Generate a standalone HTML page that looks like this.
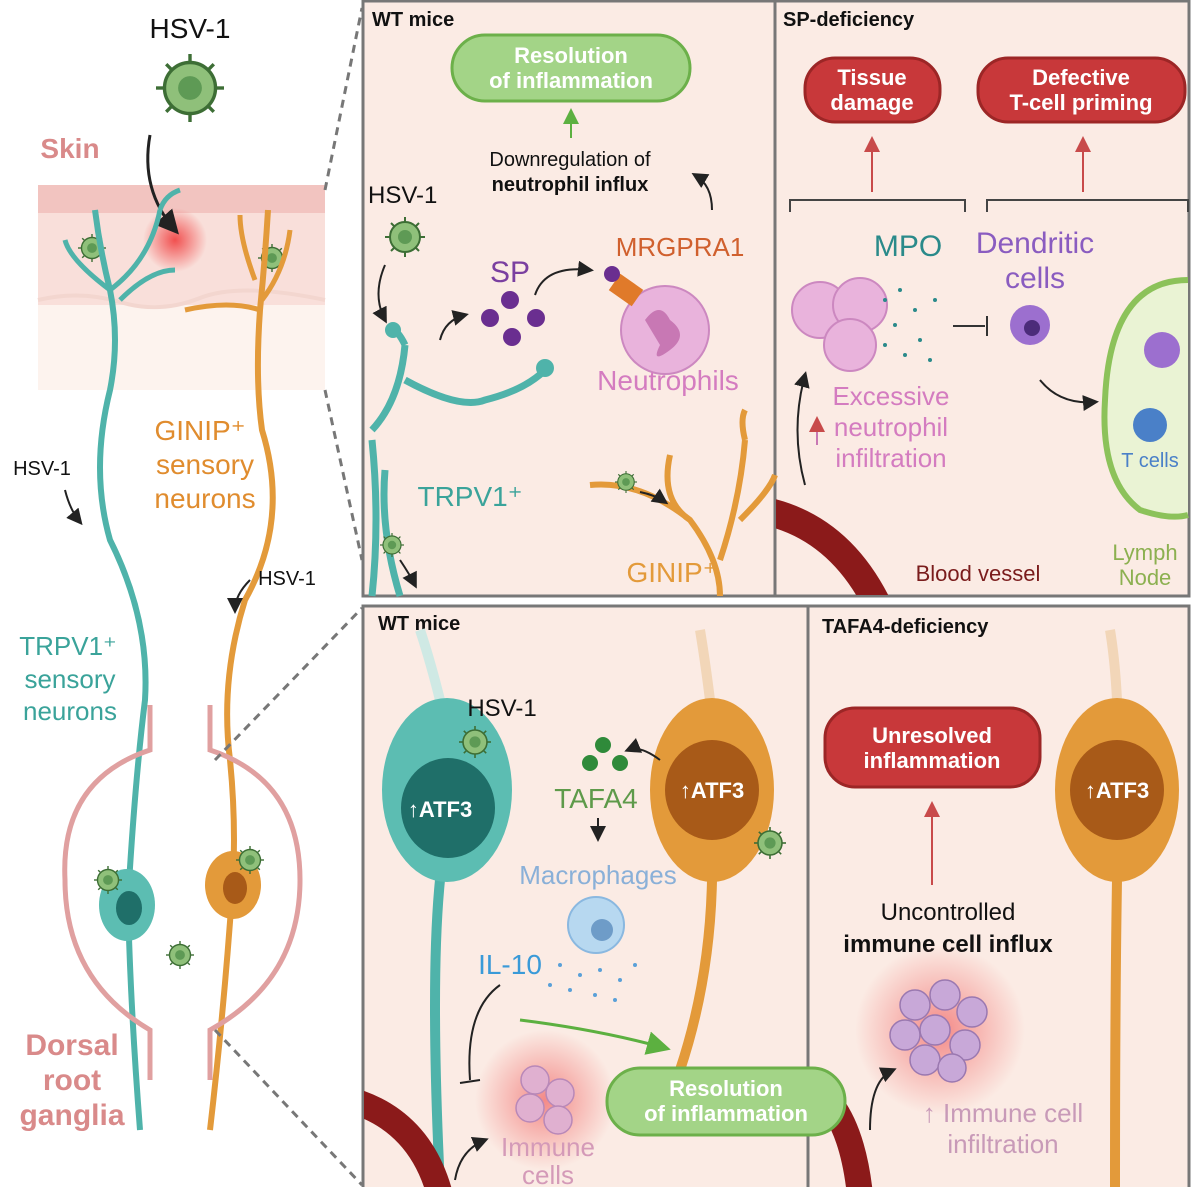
<!DOCTYPE html>
<html><head><meta charset="utf-8"><style>
html,body{margin:0;padding:0;background:#fff;}
svg{display:block;}
text{font-family:"Liberation Sans",sans-serif;}
</style></head><body>
<svg width="1200" height="1187" viewBox="0 0 1200 1187" xmlns="http://www.w3.org/2000/svg">
<defs>
<radialGradient id="glow"><stop offset="0" stop-color="#f04040" stop-opacity="0.9"/><stop offset="1" stop-color="#f04040" stop-opacity="0"/></radialGradient>
<radialGradient id="glow2"><stop offset="0" stop-color="#f06060" stop-opacity="0.7"/><stop offset="1" stop-color="#f06060" stop-opacity="0"/></radialGradient>
<clipPath id="cTR"><rect x="776" y="2" width="412" height="593"/></clipPath>
<clipPath id="cBL"><rect x="364" y="607" width="443" height="580"/></clipPath>
<clipPath id="cBR"><rect x="809" y="607" width="379" height="580"/></clipPath>
<marker id="ah" markerWidth="8" markerHeight="8" refX="6" refY="4" orient="auto"><path d="M0,0 L8,4 L0,8 z" fill="#222"/></marker>
<marker id="ahr" markerWidth="8" markerHeight="8" refX="6" refY="4" orient="auto"><path d="M0,0 L8,4 L0,8 z" fill="#c84a4a"/></marker>
<marker id="ahg" markerWidth="8" markerHeight="8" refX="6" refY="4" orient="auto"><path d="M0,0 L8,4 L0,8 z" fill="#5cb040"/></marker>
<g id="virus"><circle r="15" fill="#8fc07a" stroke="#3d6e35" stroke-width="2"/><circle r="7" fill="#5e9a55"/><g stroke="#3d6e35" stroke-width="2"><line x1="0" y1="-15" x2="0" y2="-20"/><line x1="0" y1="15" x2="0" y2="20"/><line x1="-15" y1="0" x2="-20" y2="0"/><line x1="15" y1="0" x2="20" y2="0"/><line x1="11" y1="11" x2="14" y2="14"/><line x1="-11" y1="11" x2="-14" y2="14"/><line x1="11" y1="-11" x2="14" y2="-14"/><line x1="-11" y1="-11" x2="-14" y2="-14"/></g></g>
</defs>

<!-- LEFT PANEL -->
<text x="190" y="38" font-size="28" text-anchor="middle" fill="#111">HSV-1</text>
<use href="#virus" transform="translate(190,88) scale(1.7)"/>
<text x="70" y="158" font-size="28" font-weight="bold" text-anchor="middle" fill="#d98a8a">Skin</text>
<rect x="38" y="185" width="287" height="205" fill="#fdf3ee"/>
<rect x="38" y="185" width="287" height="120" fill="#f9dfda"/>
<rect x="38" y="185" width="287" height="28" fill="#f2c4c0"/>
<path d="M38,300 Q80,290 120,302 T200,298 T325,300" fill="none" stroke="#f3d6cf" stroke-width="4"/>
<circle cx="175" cy="240" r="32" fill="url(#glow)"/>
<path d="M150,135 Q140,190 175,230" fill="none" stroke="#222" stroke-width="3" marker-end="url(#ah)"/>
<use href="#virus" transform="translate(92,248) scale(0.7)"/>
<use href="#virus" transform="translate(272,258) scale(0.7)"/>
<path d="M95,210 Q100,250 110,290 Q120,340 110,390 Q90,470 110,540 Q150,620 145,700 Q135,780 128,900 Q130,1000 140,1130" fill="none" stroke="#4fb3aa" stroke-width="6"/>
<path d="M110,290 Q150,260 160,210 M160,210 Q165,195 180,190 M110,290 Q70,260 65,240 M120,300 Q150,270 175,270" fill="none" stroke="#4fb3aa" stroke-width="5"/>
<path d="M268,210 Q265,260 260,310 Q255,380 262,430 Q290,520 245,600 Q220,680 230,760 Q236,820 233,880 Q225,1000 210,1130" fill="none" stroke="#e39a3a" stroke-width="6"/>
<path d="M260,310 Q230,300 185,310 M262,300 Q285,270 290,230 M255,280 Q240,240 240,215" fill="none" stroke="#e39a3a" stroke-width="5"/>
<path d="M150,705 L150,750 Q60,780 65,880 Q65,980 150,1030 L150,1080 M210,705 L210,750 Q300,780 300,880 Q300,980 210,1030 L210,1080" fill="none" stroke="#e0a0a0" stroke-width="5"/>
<ellipse cx="127" cy="905" rx="28" ry="36" fill="#5cbdb2"/><ellipse cx="129" cy="908" rx="13" ry="17" fill="#1f6f69"/>
<ellipse cx="233" cy="885" rx="28" ry="34" fill="#e39a3a"/><ellipse cx="235" cy="888" rx="12" ry="16" fill="#a85a18"/>
<use href="#virus" transform="translate(108,880) scale(0.7)"/>
<use href="#virus" transform="translate(250,860) scale(0.7)"/>
<use href="#virus" transform="translate(180,955) scale(0.7)"/>
<text font-size="28" fill="#e08c2e" text-anchor="middle"><tspan x="200" y="440">GINIP⁺</tspan><tspan x="205" y="474">sensory</tspan><tspan x="205" y="508">neurons</tspan></text>
<text font-size="26" fill="#3aa39a" text-anchor="middle"><tspan x="68" y="655">TRPV1⁺</tspan><tspan x="70" y="688">sensory</tspan><tspan x="70" y="720">neurons</tspan></text>
<text x="42" y="475" font-size="20" text-anchor="middle" fill="#111">HSV-1</text>
<path d="M65,490 Q70,510 80,522" fill="none" stroke="#222" stroke-width="2" marker-end="url(#ah)"/>
<text x="287" y="585" font-size="20" text-anchor="middle" fill="#111">HSV-1</text>
<path d="M250,580 Q235,595 235,610" fill="none" stroke="#222" stroke-width="2" marker-end="url(#ah)"/>
<text font-size="30" font-weight="bold" fill="#d98a8a" text-anchor="middle"><tspan x="72" y="1055">Dorsal</tspan><tspan x="72" y="1090">root</tspan><tspan x="72" y="1125">ganglia</tspan></text>
<path d="M325,190 L362,8 M325,390 L362,560 M215,760 L362,608 M215,1030 L362,1185" stroke="#777" stroke-width="3" stroke-dasharray="8,6" fill="none"/>

<!-- TOP PANELS -->
<rect x="363" y="1" width="826" height="595" fill="#fbebe4" stroke="#777" stroke-width="3"/>
<line x1="775" y1="1" x2="775" y2="596" stroke="#777" stroke-width="3"/>
<text x="372" y="26" font-size="20" font-weight="bold" fill="#111">WT mice</text>
<text x="783" y="26" font-size="20" font-weight="bold" fill="#111">SP-deficiency</text>
<rect x="452" y="35" width="238" height="66" rx="33" fill="#a3d487" stroke="#6cb04a" stroke-width="3"/>
<text font-size="22" font-weight="bold" fill="#fff" text-anchor="middle"><tspan x="571" y="63">Resolution</tspan><tspan x="571" y="88">of inflammation</tspan></text>
<line x1="571" y1="138" x2="571" y2="112" stroke="#5cb040" stroke-width="2" marker-end="url(#ahg)"/>
<text x="570" y="166" font-size="20" text-anchor="middle" fill="#111">Downregulation of</text>
<text x="570" y="191" font-size="20" font-weight="bold" text-anchor="middle" fill="#111">neutrophil influx</text>
<path d="M712,210 Q712,185 695,175" fill="none" stroke="#222" stroke-width="2" marker-end="url(#ah)"/>
<text x="368" y="203" font-size="24" fill="#111">HSV-1</text>
<use href="#virus" transform="translate(405,237)"/>
<path d="M385,265 Q372,295 385,320" fill="none" stroke="#222" stroke-width="2" marker-end="url(#ah)"/>
<path d="M372,430 Q400,400 405,345 M405,345 Q398,330 390,328 M405,380 Q460,410 485,400 Q525,390 545,370 M385,470 Q380,530 400,596 M372,440 Q380,520 372,596" fill="none" stroke="#4fb3aa" stroke-width="7"/>
<circle cx="545" cy="368" r="9" fill="#4fb3aa"/><circle cx="393" cy="330" r="8" fill="#4fb3aa"/>
<path d="M440,340 Q445,320 465,315" fill="none" stroke="#222" stroke-width="2" marker-end="url(#ah)"/>
<text x="510" y="282" font-size="30" fill="#7a3fa0" text-anchor="middle">SP</text>
<g fill="#6a2e90"><circle cx="510" cy="300" r="9"/><circle cx="490" cy="318" r="9"/><circle cx="536" cy="318" r="9"/><circle cx="512" cy="337" r="9"/></g>
<path d="M535,295 Q545,265 590,270" fill="none" stroke="#222" stroke-width="2" marker-end="url(#ah)"/>
<text x="680" y="256" font-size="26" fill="#d0602e" text-anchor="middle">MRGPRA1</text>
<circle cx="665" cy="330" r="44" fill="#e9b3dc" stroke="#cc88c0" stroke-width="2"/>
<path d="M645,320 Q660,300 670,320 Q690,335 670,350 Q650,365 660,345" fill="#c878b4"/>
<rect x="612" y="280" width="28" height="20" fill="#e07a2a" transform="rotate(35 626 290)"/>
<circle cx="612" cy="274" r="8" fill="#6a2e90"/>
<text x="668" y="390" font-size="28" fill="#d47cc0" text-anchor="middle">Neutrophils</text>
<text x="470" y="506" font-size="28" fill="#3aa39a" text-anchor="middle">TRPV1⁺</text>
<use href="#virus" transform="translate(392,545) scale(0.6)"/>
<path d="M400,560 Q410,575 415,585" fill="none" stroke="#222" stroke-width="2" marker-end="url(#ah)"/>
<path d="M590,485 Q640,480 690,520 Q720,560 720,596 M720,560 Q740,500 745,440 M745,440 Q740,420 745,410 M690,520 Q660,500 670,455 M740,520 Q770,490 775,475" fill="none" stroke="#e39a3a" stroke-width="6"/>
<use href="#virus" transform="translate(626,482) scale(0.55)"/>
<path d="M640,492 Q655,495 665,502" fill="none" stroke="#222" stroke-width="2" marker-end="url(#ah)"/>
<text x="672" y="582" font-size="28" fill="#e39a3a" text-anchor="middle">GINIP⁺</text>

<!-- SP-deficiency -->
<rect x="805" y="58" width="135" height="64" rx="30" fill="#c8383a" stroke="#9c2626" stroke-width="3"/>
<text font-size="22" font-weight="bold" fill="#fff" text-anchor="middle"><tspan x="872" y="85">Tissue</tspan><tspan x="872" y="110">damage</tspan></text>
<rect x="978" y="58" width="207" height="64" rx="30" fill="#c8383a" stroke="#9c2626" stroke-width="3"/>
<text font-size="22" font-weight="bold" fill="#fff" text-anchor="middle"><tspan x="1081" y="85">Defective</tspan><tspan x="1081" y="110">T-cell priming</tspan></text>
<line x1="872" y1="192" x2="872" y2="140" stroke="#c84a4a" stroke-width="2" marker-end="url(#ahr)"/>
<line x1="1083" y1="192" x2="1083" y2="140" stroke="#c84a4a" stroke-width="2" marker-end="url(#ahr)"/>
<path d="M790,212 L790,200 L965,200 L965,212 M987,212 L987,200 L1188,200 L1188,212" fill="none" stroke="#444" stroke-width="2"/>
<text x="908" y="256" font-size="30" fill="#2a8a8a" text-anchor="middle">MPO</text>
<text font-size="30" fill="#8a5cc0" text-anchor="middle"><tspan x="1035" y="253">Dendritic</tspan><tspan x="1035" y="288">cells</tspan></text>
<g fill="#e9b3dc" stroke="#cc88c0" stroke-width="2"><circle cx="820" cy="310" r="28"/><circle cx="860" cy="305" r="27"/><circle cx="850" cy="345" r="26"/></g>
<g fill="#2a8a8a"><circle cx="885" cy="300" r="2"/><circle cx="900" cy="290" r="2"/><circle cx="915" cy="310" r="2"/><circle cx="895" cy="325" r="2"/><circle cx="920" cy="340" r="2"/><circle cx="935" cy="300" r="2"/><circle cx="905" cy="355" r="2"/><circle cx="930" cy="360" r="2"/><circle cx="885" cy="345" r="2"/></g>
<path d="M953,326 L985,326 M987,316 L987,336" stroke="#333" stroke-width="2"/>
<circle cx="1030" cy="325" r="20" fill="#9c6fcf"/><circle cx="1032" cy="328" r="8" fill="#4c2c7a"/>
<path d="M1040,380 Q1060,405 1095,402" fill="none" stroke="#222" stroke-width="2" marker-end="url(#ah)"/>
<text font-size="26" fill="#d47cc0" text-anchor="middle"><tspan x="891" y="405">Excessive</tspan><tspan x="891" y="436">neutrophil</tspan><tspan x="891" y="467">infiltration</tspan></text>
<path d="M817,445 L817,420" stroke="#c878b4" stroke-width="2" marker-end="url(#ahr)"/>
<path d="M1188,280 Q1110,280 1105,400 Q1100,480 1140,510 Q1170,520 1188,515" fill="#eaf3d4" stroke="#8cc25a" stroke-width="6"/>
<circle cx="1162" cy="350" r="18" fill="#9c6fcf"/>
<circle cx="1150" cy="425" r="17" fill="#4a80c8"/>
<text x="1150" y="467" font-size="20" fill="#4a80c8" text-anchor="middle">T cells</text>
<g clip-path="url(#cTR)"><path d="M760,510 Q840,525 880,610" fill="none" stroke="#8b1a1a" stroke-width="28"/></g>
<path d="M805,485 Q790,430 805,375" fill="none" stroke="#222" stroke-width="2" marker-end="url(#ah)"/>
<text x="978" y="581" font-size="22" fill="#7a1c1c" text-anchor="middle">Blood vessel</text>
<text font-size="22" fill="#8cb050" text-anchor="middle"><tspan x="1145" y="560">Lymph</tspan><tspan x="1145" y="585">Node</tspan></text>

<!-- BOTTOM PANELS -->
<rect x="363" y="606" width="826" height="590" fill="#fbebe4" stroke="#777" stroke-width="3"/>
<line x1="808" y1="606" x2="808" y2="1187" stroke="#777" stroke-width="3"/>
<text x="378" y="630" font-size="20" font-weight="bold" fill="#111">WT mice</text>
<text x="822" y="633" font-size="20" font-weight="bold" fill="#111">TAFA4-deficiency</text>
<g clip-path="url(#cBL)">
<path d="M440,880 Q430,980 440,1187" stroke="#4fb3aa" stroke-width="10" fill="none"/>
<path d="M420,630 Q430,660 440,700" stroke="#cfe9e4" stroke-width="10" fill="none"/>
<path d="M712,880 Q710,980 680,1070" stroke="#e39a3a" stroke-width="10" fill="none"/>
<path d="M700,630 Q705,660 710,700" stroke="#f2d6b8" stroke-width="10" fill="none"/>
<circle cx="545" cy="1100" r="70" fill="url(#glow2)"/>
<path d="M350,1100 Q420,1120 440,1195" fill="none" stroke="#8b1a1a" stroke-width="26"/>
<path d="M800,1080 Q850,1100 860,1195" fill="none" stroke="#8b1a1a" stroke-width="26"/>
</g>
<ellipse cx="447" cy="790" rx="65" ry="92" fill="#5cbdb2"/>
<ellipse cx="448" cy="808" rx="47" ry="50" fill="#1f6f69"/>
<text x="440" y="817" font-size="22" font-weight="bold" fill="#fff" text-anchor="middle">↑ATF3</text>
<use href="#virus" transform="translate(475,742) scale(0.8)"/>
<text x="502" y="716" font-size="24" fill="#111" text-anchor="middle">HSV-1</text>
<ellipse cx="712" cy="790" rx="62" ry="92" fill="#e39a3a"/>
<ellipse cx="712" cy="790" rx="47" ry="50" fill="#a85a18"/>
<text x="712" y="798" font-size="22" font-weight="bold" fill="#fff" text-anchor="middle">↑ATF3</text>
<use href="#virus" transform="translate(770,843) scale(0.8)"/>
<path d="M660,760 Q640,745 628,750" fill="none" stroke="#222" stroke-width="2" marker-end="url(#ah)"/>
<g fill="#2f8a3a"><circle cx="603" cy="745" r="8"/><circle cx="590" cy="763" r="8"/><circle cx="620" cy="763" r="8"/></g>
<text x="596" y="808" font-size="28" fill="#5e9a4a" text-anchor="middle">TAFA4</text>
<line x1="598" y1="818" x2="598" y2="838" stroke="#222" stroke-width="2" marker-end="url(#ah)"/>
<text x="598" y="884" font-size="26" fill="#8ab0d8" text-anchor="middle">Macrophages</text>
<circle cx="596" cy="925" r="28" fill="#b7d8f0" stroke="#8ab8e0" stroke-width="2"/><circle cx="602" cy="930" r="11" fill="#6e9cc8"/>
<text x="510" y="974" font-size="28" fill="#3a9ad8" text-anchor="middle">IL-10</text>
<g fill="#5aa0d8"><circle cx="560" cy="965" r="2"/><circle cx="580" cy="975" r="2"/><circle cx="600" cy="970" r="2"/><circle cx="620" cy="980" r="2"/><circle cx="635" cy="965" r="2"/><circle cx="570" cy="990" r="2"/><circle cx="595" cy="995" r="2"/><circle cx="615" cy="1000" r="2"/><circle cx="550" cy="985" r="2"/></g>
<path d="M500,985 Q465,1010 470,1080 M460,1083 L480,1080" fill="none" stroke="#222" stroke-width="2"/>
<path d="M520,1020 Q600,1030 665,1048" fill="none" stroke="#5cb040" stroke-width="3" marker-end="url(#ahg)"/>
<g fill="#e0b0d0" stroke="#b888b8" stroke-width="1.5"><circle cx="535" cy="1080" r="14"/><circle cx="560" cy="1093" r="14"/><circle cx="530" cy="1108" r="14"/><circle cx="558" cy="1120" r="14"/></g>
<path d="M455,1180 Q460,1150 485,1140" fill="none" stroke="#222" stroke-width="2" marker-end="url(#ah)"/>
<text font-size="26" fill="#d49ab8" text-anchor="middle"><tspan x="548" y="1156">Immune</tspan><tspan x="548" y="1184">cells</tspan></text>
<g clip-path="url(#cBR)"><path d="M800,1080 Q850,1100 860,1195" fill="none" stroke="#8b1a1a" stroke-width="26"/></g>
<rect x="607" y="1068" width="238" height="67" rx="33" fill="#a3d487" stroke="#6cb04a" stroke-width="3"/>
<text font-size="22" font-weight="bold" fill="#fff" text-anchor="middle"><tspan x="726" y="1096">Resolution</tspan><tspan x="726" y="1121">of inflammation</tspan></text>

<!-- TAFA4-deficiency -->
<g clip-path="url(#cBR)">
<path d="M1117,880 Q1115,1000 1115,1187" stroke="#e39a3a" stroke-width="10" fill="none"/>
<path d="M1110,630 Q1115,660 1117,700" stroke="#f2d6b8" stroke-width="10" fill="none"/>
</g>
<ellipse cx="1117" cy="790" rx="62" ry="92" fill="#e39a3a"/>
<ellipse cx="1117" cy="790" rx="47" ry="50" fill="#a85a18"/>
<text x="1117" y="798" font-size="22" font-weight="bold" fill="#fff" text-anchor="middle">↑ATF3</text>
<rect x="825" y="708" width="215" height="79" rx="30" fill="#c8383a" stroke="#9c2626" stroke-width="3"/>
<text font-size="22" font-weight="bold" fill="#fff" text-anchor="middle"><tspan x="932" y="743">Unresolved</tspan><tspan x="932" y="768">inflammation</tspan></text>
<line x1="932" y1="885" x2="932" y2="805" stroke="#c84a4a" stroke-width="2" marker-end="url(#ahr)"/>
<text x="948" y="920" font-size="24" fill="#111" text-anchor="middle">Uncontrolled</text>
<text x="948" y="952" font-size="24" font-weight="bold" fill="#111" text-anchor="middle">immune cell influx</text>
<circle cx="940" cy="1030" r="85" fill="url(#glow2)"/>
<g fill="#c8a8d8" stroke="#9a78b0" stroke-width="1.5"><circle cx="915" cy="1005" r="15"/><circle cx="945" cy="995" r="15"/><circle cx="972" cy="1012" r="15"/><circle cx="905" cy="1035" r="15"/><circle cx="935" cy="1030" r="15"/><circle cx="965" cy="1045" r="15"/><circle cx="925" cy="1060" r="15"/><circle cx="952" cy="1068" r="14"/></g>
<path d="M870,1130 Q870,1080 893,1070" fill="none" stroke="#222" stroke-width="2" marker-end="url(#ah)"/>
<text x="1003" y="1122" font-size="26" fill="#c89ab8" text-anchor="middle">↑ Immune cell</text>
<text x="1003" y="1153" font-size="26" fill="#c89ab8" text-anchor="middle">infiltration</text>
</svg>
</body></html>
